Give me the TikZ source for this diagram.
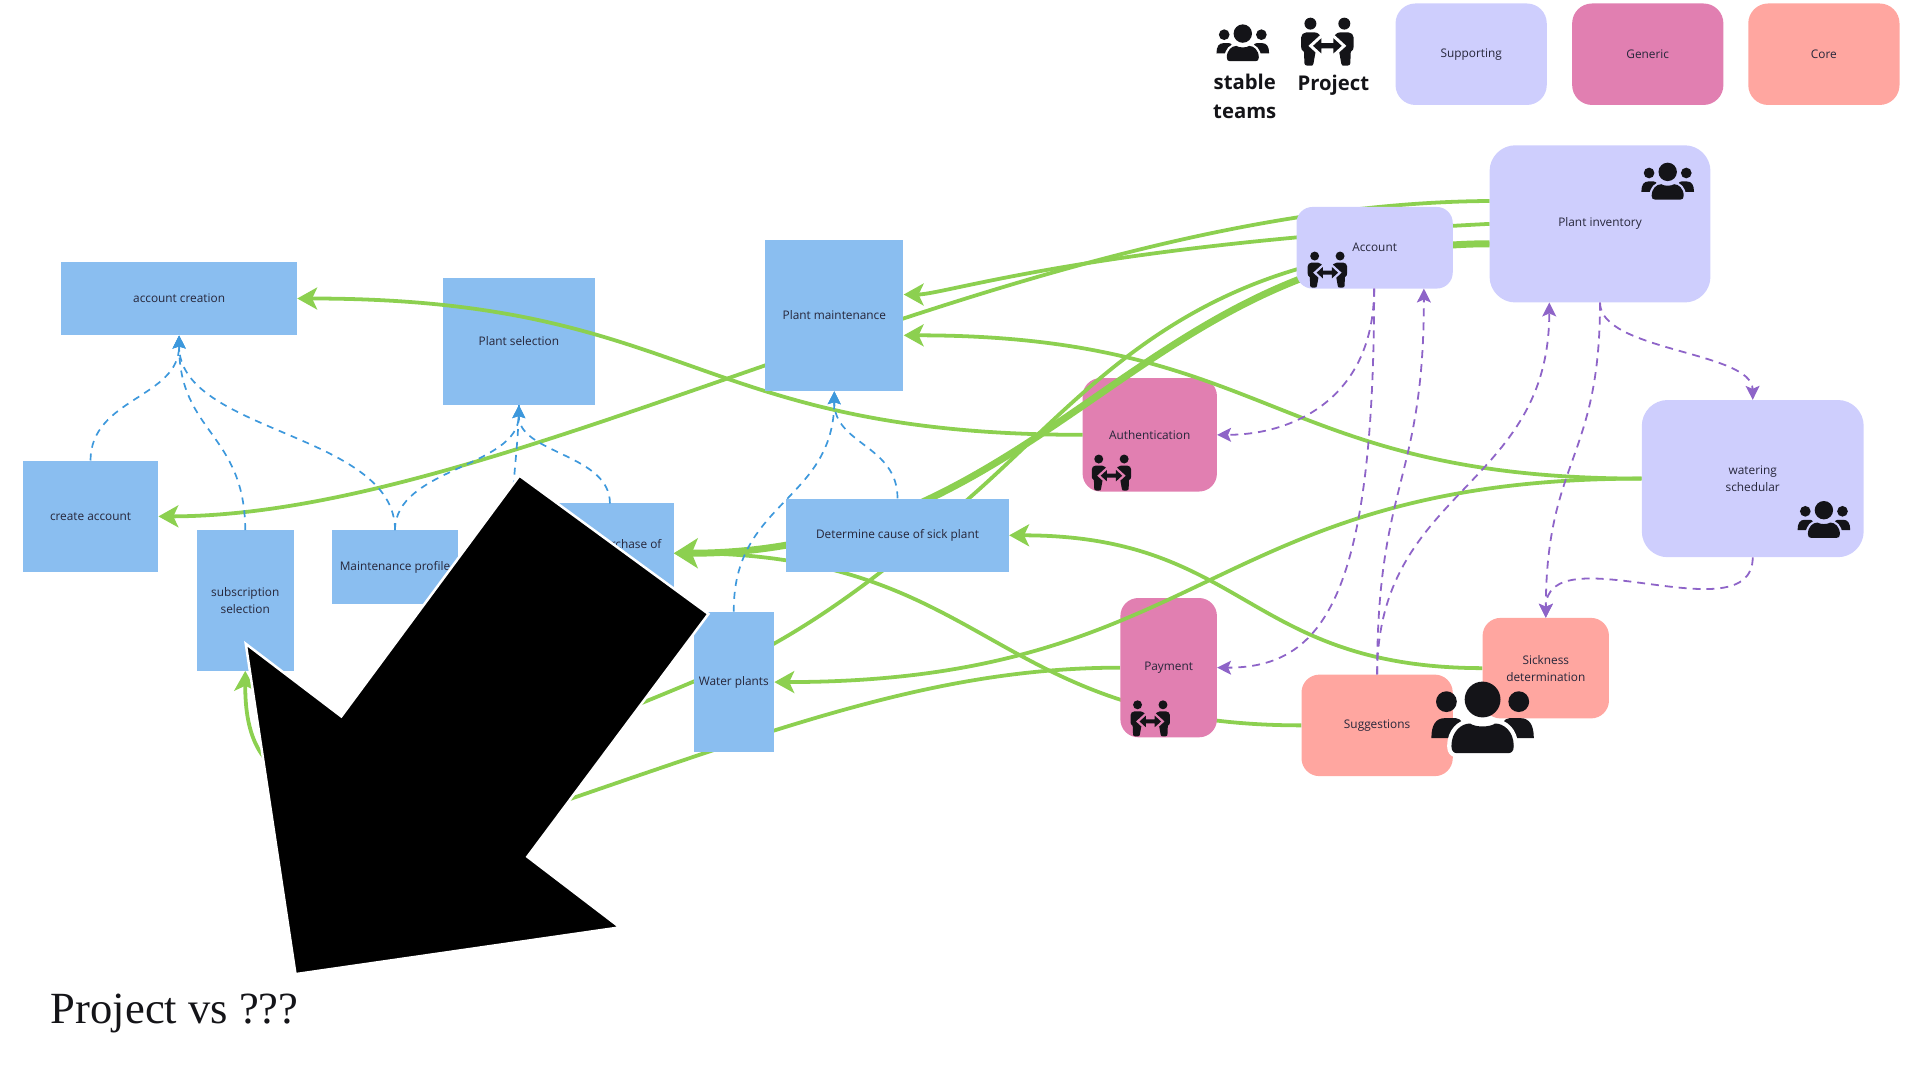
\documentclass[tikz,border=0pt]{standalone}
\usepackage{fontspec}
\setmainfont{Open Sans}
\newfontfamily\titlefont{Liberation Serif}
\usetikzlibrary{arrows.meta}
\pgfdeclarelayer{low}\pgfdeclarelayer{mid}\pgfdeclarelayer{midb}\pgfdeclarelayer{midc}
\pgfsetlayers{low,mid,midb,midc,main}
\definecolor{bluebox}{HTML}{8ABEF0}
\definecolor{lavbox}{HTML}{CECEFD}
\definecolor{pinkbox}{HTML}{E17FB1}
\definecolor{salmonbox}{HTML}{FFA6A0}
\definecolor{greenline}{HTML}{8CD050}
\definecolor{blueline}{HTML}{3D98DC}
\definecolor{purpleline}{HTML}{8E64C8}
\definecolor{inktext}{HTML}{26263A}
\definecolor{iconink}{HTML}{141418}
\tikzset{
  box/.style={inner sep=0pt,text=inktext,font=\fontsize{11.9}{17}\selectfont,align=center},
  bluenode/.style={box,fill=bluebox},
  lavnode/.style={box,fill=lavbox,rounded corners=20pt},
  pinknode/.style={box,fill=pinkbox,rounded corners=18pt},
  salmonnode/.style={box,fill=salmonbox,rounded corners=18pt},
  green/.style={draw=greenline,line width=3.8pt,-{Stealth[length=20pt,width=22pt,inset=5pt]}},
  greenplain/.style={draw=greenline,line width=3.8pt},
  greenthick/.style={draw=greenline,line width=7pt,-{Stealth[length=24pt,width=30pt,inset=6pt]}},
  bluedash/.style={draw=blueline,line width=1.7pt,dash pattern=on 7pt off 6pt,-{Stealth[length=13pt,width=13pt,inset=2pt]}},
  blueplain/.style={draw=blueline,line width=1.7pt,dash pattern=on 7pt off 6pt},
  purpledash/.style={draw=purpleline,line width=1.8pt,dash pattern=on 8pt off 6pt,-{Stealth[length=14pt,width=14pt,inset=3pt]}},
  legendlabel/.style={inner sep=0pt,text=iconink,font=\bfseries\fontsize{20.4}{29}\selectfont,align=center},
}
\newcommand{\teambody}{%
  (-.87,.8) .. controls (-.87,.4) and (-.6,.17) .. (-.35,.17) .. controls (-.2,.28) and (.2,.28) .. (.35,.17)
  .. controls (.6,.17) and (.87,.4) .. (.87,.8) .. controls (.87,.95) and (.8,1) .. (.7,1) -- (-.7,1) .. controls (-.8,1) and (-.87,.95) .. (-.87,.8) -- cycle}
\newcommand{\teamicon}[4]{%
  \begin{scope}[shift={(#1,#2)},scale=#3]
    \fill[iconink] (0,-.5) ellipse [x radius=.5,y radius=.5];
    \fill[iconink] (-1.01,-.44) ellipse [x radius=.29,y radius=.29];
    \fill[iconink] (1.01,-.44) ellipse [x radius=.29,y radius=.29];
    \fill[iconink] (-1.43,.58) .. controls (-1.43,.2) and (-1.3,.02) .. (-1.05,.02) -- (-.75,.02) .. controls (-.6,.02) and (-.5,.2) .. (-.5,.58) -- cycle;
    \fill[iconink] (1.43,.58) .. controls (1.43,.2) and (1.3,.02) .. (1.05,.02) -- (.75,.02) .. controls (.6,.02) and (.5,.2) .. (.5,.58) -- cycle;
    \draw[#4,line width=#3*.24pt,line join=round] \teambody;
    \fill[iconink] \teambody;
  \end{scope}}
\newcommand{\projbody}{%
  (-.89,-.39) -- (-.52,-.39) .. controls (-.4,-.39) and (-.32,-.3) .. (-.15,-.08) -- (-.3,.25) -- (-.5,.45) -- (-.58,.9)
  .. controls (-.58,1) and (-.64,1) .. (-.7,1) -- (-.84,1) .. controls (-.92,1) and (-.96,.95) .. (-.96,.9) -- (-.98,.42)
  .. controls (-1.08,.35) and (-1.1,.3) .. (-1.1,.2) -- (-1.1,-.18) .. controls (-1.1,-.3) and (-1,-.39) .. (-.89,-.39) -- cycle}
\newcommand{\projarrow}{%
  (-.6,.17) -- (-.25,-.15) -- (-.25,.06) -- (.25,.06) -- (.25,-.15) -- (.6,.17) -- (.25,.49) -- (.25,.28) -- (-.25,.28) -- (-.25,.49) -- cycle}
\newcommand{\projicon}[4]{%
  \begin{scope}[shift={(#1,#2)},scale=#3]
    \fill[iconink] (-.71,-.76) circle [radius=.25];
    \fill[iconink] (.71,-.76) circle [radius=.25];
    \fill[iconink] \projbody;
    \begin{scope}[xscale=-1]\fill[iconink] \projbody;\end{scope}
    \draw[#4,line width=#3*.26pt,line join=miter] \projarrow;
    \fill[iconink] \projarrow;
  \end{scope}}
\begin{document}
\begin{tikzpicture}[x=1pt,y=-1pt]
\useasboundingbox (0,0) rectangle (1929.6,1085.4);
% lower boxes
\begin{pgfonlayer}{low}
\node[bluenode,minimum width=153pt,minimum height=128pt] (plantsel) at (521.5,343) {Plant selection};
\node[pinknode,minimum width=135pt,minimum height=114pt] (auth) at (1155.5,437) {Authentication};
\end{pgfonlayer}
% main boxes
\node[bluenode,minimum width=237pt,minimum height=74pt] (acctcreate) at (180,300) {account creation};
\node[bluenode,minimum width=136pt,minimum height=112pt] (createacct) at (91,519) {create account};
\node[bluenode,minimum width=97pt,minimum height=141pt] (subsel) at (246.5,603.5) {subscription\\selection};
\node[bluenode,minimum width=127pt,minimum height=74pt] (maint) at (397,570) {Maintenance profile};
\node[bluenode,minimum width=117pt,minimum height=100pt] (purchase) at (618.5,556) {};
\node[box,anchor=east] (purchasetext) at (665,547) {Purchase of};
\node[bluenode,minimum width=139pt,minimum height=152pt] (plantmaint) at (838.5,317) {Plant maintenance};
\node[bluenode,minimum width=224pt,minimum height=74pt] (determine) at (902,538) {Determine cause of sick plant};
\node[bluenode,minimum width=81pt,minimum height=141pt] (water) at (737.5,685.5) {Water plants};
\node[lavnode,rounded corners=16pt,minimum width=157pt,minimum height=82pt] (account) at (1381.5,249) {Account};
\node[lavnode,rounded corners=26pt,minimum width=222pt,minimum height=158pt] (inventory) at (1608,225) {Plant inventory};
\node[lavnode,rounded corners=26pt,minimum width=223pt,minimum height=158pt] (watering) at (1761.5,481) {watering\\schedular};
\node[salmonnode,minimum width=127pt,minimum height=101pt] (sickness) at (1553.5,671.5) {Sickness\\determination};
\node[salmonnode,minimum width=152pt,minimum height=102pt] (suggest) at (1384,729) {Suggestions};
\begin{pgfonlayer}{midb}
\node[pinknode,minimum width=97pt,minimum height=140pt] (payment) at (1174.5,671) {Payment};
\end{pgfonlayer}
% legend
\node[lavnode,rounded corners=20pt,minimum width=152pt,minimum height=102pt] (legsup) at (1478.5,54.5) {Supporting};
\node[pinknode,rounded corners=20pt,minimum width=152pt,minimum height=102pt] (leggen) at (1656,54.5) {Generic};
\node[salmonnode,rounded corners=20pt,minimum width=152pt,minimum height=102pt] (legcore) at (1833,54.5) {Core};
\node[legendlabel] (legstable) at (1251,97) {stable\\teams};
\node[legendlabel] (legproject) at (1340,85.5) {Project};
% way points of the connectors that run behind the big arrow
\coordinate (wayb) at (977,498);
\coordinate (wayc) at (697,685);
\coordinate (wayh) at (570,804);
\coordinate (hiddenend) at (420,840);
\coordinate (hiddensrc) at (516,490);
% green connectors under boxes
\begin{pgfonlayer}{mid}
\draw[green] (1088,437) .. controls (695,437) and (695,300) .. (acctcreate.east);
\draw[green] (1497,202) .. controls (1020,205) and (520,518) .. (createacct.east);
\draw[green] (1497,225) .. controls (1100,245) and (950,296) .. (plantmaint.east |- 0,296);
\draw[greenplain] (1497,245) .. controls (1200,245) and (1100,390) .. (wayb) .. controls (880,585) and (790,650) .. (wayc);
\draw[green] (wayc) .. controls (330,840) and (246,810) .. (subsel.south);
\draw[greenthick] (1497,245) .. controls (1150,245) and (1050,556) .. (purchase.east);
\draw[green] (suggest.west) .. controls (995,729) and (995,556) .. (purchase.east);
\draw[greenplain] (payment.west) .. controls (950,671) and (800,725) .. (wayh);
\draw[greenplain] (wayh) -- (hiddenend);
\draw[green] (watering.west) .. controls (1279,481) and (1279,337) .. (plantmaint.east |- 0,337);
\draw[green] (sickness.west) .. controls (1252,671) and (1252,538) .. (determine.east);
\end{pgfonlayer}
\begin{pgfonlayer}{midc}
\draw[green] (watering.west) .. controls (1214,481) and (1214,685) .. (water.east);
\end{pgfonlayer}
% blue dashed
\draw[bluedash] (createacct.north) .. controls (91,400) and (180,400) .. (acctcreate.south);
\draw[bluedash] (subsel.north) .. controls (246,435) and (180,435) .. (acctcreate.south);
\draw[bluedash] (maint.north) .. controls (397,435) and (180,435) .. (acctcreate.south);
\draw[bluedash] (maint.north) .. controls (397,470) and (521,470) .. (plantsel.south);
\draw[blueplain] (hiddensrc) .. controls (518,460) and (521,440) .. (plantsel.south);
\draw[bluedash] (613,506) .. controls (613,456) and (521,456) .. (plantsel.south);
\draw[bluedash] (water.north) .. controls (736,504) and (838,504) .. (plantmaint.south);
\draw[bluedash] (determine.north) .. controls (902,447) and (838,447) .. (plantmaint.south);
% purple dashed
\draw[purpledash] (1381,290) .. controls (1381,400) and (1300,437) .. (auth.east);
\draw[purpledash] (1381,290) .. controls (1381,600) and (1330,671) .. (payment.east);
\draw[purpledash] (suggest.north) .. controls (1384,484) and (1431,484) .. (1431,290);
\draw[purpledash] (suggest.north) .. controls (1384,491) and (1557,491) .. (1557,304);
\draw[purpledash] (inventory.south) .. controls (1608,353) and (1761,353) .. (watering.north);
\draw[purpledash] (inventory.south) .. controls (1608,462) and (1554,462) .. (sickness.north);
\draw[purpledash] (watering.south) .. controls (1761,640) and (1554,535) .. (sickness.north);
% icons
\teamicon{1249}{43}{18.5}{white}
\projicon{1334}{42}{24}{white}
\teamicon{1676}{182}{18.5}{lavbox}
\teamicon{1833}{522}{18.5}{lavbox}
\projicon{1334}{271}{18}{lavbox}
\projicon{1117}{475}{18}{pinkbox}
\projicon{1156}{722}{18}{pinkbox}
% big arrow
\filldraw[fill=black,draw=white,line width=2.5pt,line join=miter] (522,478) -- (712,617) -- (530,861) -- (623,932) -- (297,979) -- (247,647) -- (343,720) -- cycle;
\teamicon{1490}{721}{36}{white}
\node[inner sep=0pt,anchor=base west,text=iconink,font=\titlefont\fontsize{44.8}{50}\selectfont] (title) at (51,1029) {Project vs ???};
\end{tikzpicture}
\end{document}
